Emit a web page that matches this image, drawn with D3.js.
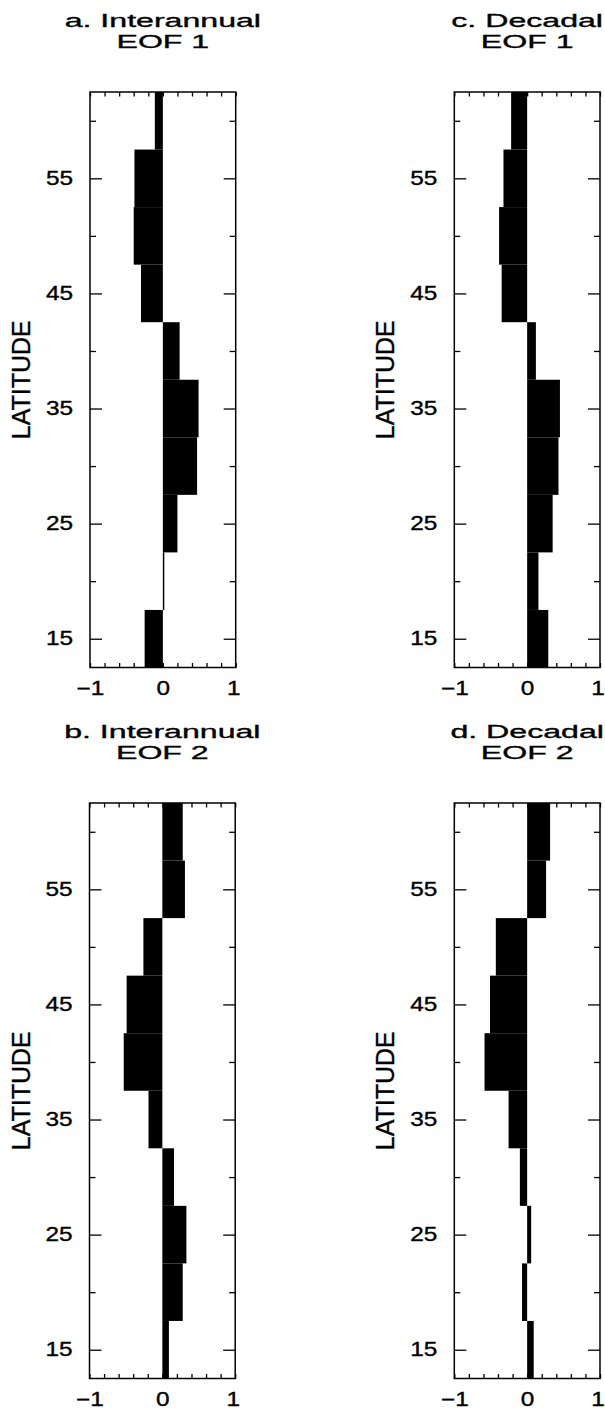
<!DOCTYPE html>
<html>
<head>
<meta charset="utf-8">
<script src="https://cdn.jsdelivr.net/npm/d3@7"></script>
<style>
  body { margin: 0; background: #fff; }
  svg { display: block; font-family: "Liberation Sans", Arial, Helvetica, sans-serif; }
  text { fill: #000; stroke: #000; stroke-width: 0.35px; }
</style>
</head>
<body>
<svg id="chart" width="605" height="1410"></svg>
<script>
// latitude band centres (each band is 5 degrees wide)
const latitudes = [15, 20, 25, 30, 35, 40, 45, 50, 55, 60];

// EOF loadings, south to north
const interannualEOF1 = [-0.25, 0.02, 0.20, 0.47, 0.49, 0.23, -0.30, -0.40, -0.39, -0.11];
const interannualEOF2 = [0.09, 0.28, 0.33, 0.16, -0.19, -0.53, -0.49, -0.26, 0.31, 0.28];
const decadalEOF1 = [0.29, 0.155, 0.35, 0.43, 0.45, 0.12, -0.35, -0.385, -0.325, -0.22];
const decadalEOF2 = [0.09, -0.07, 0.055, -0.10, -0.255, -0.585, -0.51, -0.43, 0.26, 0.315];

const yMajorTicks = [15, 25, 35, 45, 55];
const yMinorTicks = [20, 30, 40, 50, 60];
const xTicks = [-1, -0.8, -0.6, -0.4, -0.2, 0, 0.2, 0.4, 0.6, 0.8, 1];
const xLabels = [-1, 0, 1];

const panels = [
    { title: 'a. Interannual', sub: 'EOF 1', values: interannualEOF1, left: 90, top: 92 },
    { title: 'c. Decadal', sub: 'EOF 1', values: decadalEOF1, left: 454.3, top: 92 },
    { title: 'b. Interannual', sub: 'EOF 2', values: interannualEOF2, left: 89.5, top: 803 },
    { title: 'd. Decadal', sub: 'EOF 2', values: decadalEOF2, left: 454.3, top: 803 }
];

const width = 145.7, height = 575.5;
const band = 5;
const labelStretch = 1.25;  // tick labels in the figure are a bit wide
const titleStretch = 1.69;  // titles even more so

const svg = d3.select('#chart');

panels.forEach((p) => {
    const g = svg.append('g').attr('transform', `translate(${p.left},${p.top})`);

    const x = d3.scaleLinear().domain([-1, 1]).range([0, width]);
    const y = d3.scaleLinear().domain([12.5, 62.5]).range([height, 0]);

    // bars
    g.selectAll('.bar')
        .data(latitudes.map((lat, i) => ({ lat, v: p.values[i] })))
        .enter().append('rect')
        .attr('class', 'bar')
        .attr('x', d => x(Math.min(0, d.v)))
        .attr('width', d => Math.abs(x(d.v) - x(0)))
        .attr('y', d => y(d.lat + band / 2))
        .attr('height', d => y(d.lat - band / 2) - y(d.lat + band / 2))
        .attr('fill', '#000');

    // axes, ticks pointing inward
    const leftMajor = g.append('g')
        .call(d3.axisLeft(y).tickValues(yMajorTicks).tickSize(-12).tickPadding(17).tickFormat(d3.format('d')));
    g.append('g').call(d3.axisLeft(y).tickValues(yMinorTicks).tickSize(-6).tickFormat(''));
    g.append('g').attr('transform', `translate(${width},0)`)
        .call(d3.axisRight(y).tickValues(yMajorTicks).tickSize(-12).tickFormat(''));
    g.append('g').attr('transform', `translate(${width},0)`)
        .call(d3.axisRight(y).tickValues(yMinorTicks).tickSize(-6).tickFormat(''));
    const bottom = g.append('g').attr('transform', `translate(0,${height})`)
        .call(d3.axisBottom(x).tickValues(xTicks).tickSize(-4.5).tickPadding(14)
            .tickFormat(d => xLabels.includes(d) ? d3.format('d')(d) : ''));
    g.append('g')
        .call(d3.axisTop(x).tickValues(xTicks).tickSize(-4.5).tickFormat(''));

    g.selectAll('.domain').remove();
    g.selectAll('.tick line').attr('stroke', '#000').attr('stroke-width', 1.3);

    g.selectAll('.tick text')
        .attr('fill', '#000')
        .style('font-size', '19.5px');
    leftMajor.selectAll('.tick text')
        .attr('x', -17 / labelStretch)
        .attr('transform', `scale(${labelStretch},1)`);
    // empty minor labels out of the way, and nudge "1" so it stays inside the page
    bottom.selectAll('.tick text')
        .filter(d => !xLabels.includes(d)).remove();
    bottom.selectAll('.tick text')
        .attr('x', d => d === 1 ? -2.5 / labelStretch : 0)
        .attr('transform', `scale(${labelStretch},1)`);

    // frame
    g.append('rect')
        .attr('width', width)
        .attr('height', height)
        .attr('fill', 'none')
        .attr('stroke', '#000')
        .attr('stroke-width', 1.5);

    // titles
    [[p.title, -65.2], [p.sub, -43.7]].forEach(([t, dy]) => {
        g.append('g')
            .attr('transform', `translate(${width / 2},${dy}) scale(${titleStretch},1)`)
            .append('text')
            .attr('text-anchor', 'middle')
            .style('font-size', '19px')
            .text(t);
    });

    // y axis label
    g.append('text')
        .attr('transform', `translate(-60,${height / 2}) rotate(-90)`)
        .attr('text-anchor', 'middle')
        .style('font-size', '25px')
        .text('LATITUDE');
});
</script>
</body>
</html>
